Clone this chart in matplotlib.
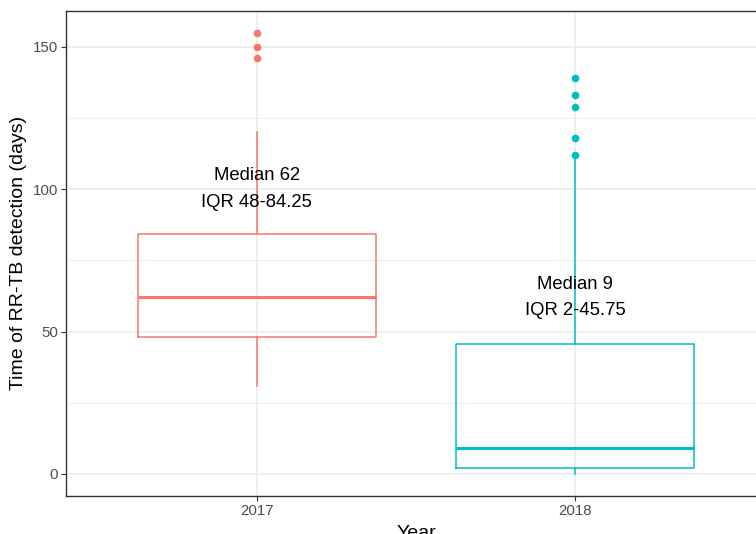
import matplotlib.pyplot as plt
from matplotlib.ticker import MultipleLocator

plt.rcParams['font.family'] = ['Liberation Sans', 'DejaVu Sans']

years = ["2017", "2018"]
q1 = [48, 2]
medians = [62, 9]
q3 = [84.25, 45.75]
whisk_lo = [31, 0]
whisk_hi = [120, 111]
outliers = [[146, 150, 155], [112, 118, 129, 133, 139]]
labels = ["Median 62\nIQR 48-84.25", "Median 9\nIQR 2-45.75"]
label_y = [100, 62]
colors = ["#F8766D", "#00BFC4"]

fig = plt.figure(figsize=(7.56, 5.34), dpi=100)
ax = fig.add_axes([66 / 756, 38 / 534, 700 / 756, 485.5 / 534])

positions = [1, 2]
for i, pos in enumerate(positions):
    stats = [{
        "med": medians[i], "q1": q1[i], "q3": q3[i],
        "whislo": whisk_lo[i], "whishi": whisk_hi[i],
        "fliers": outliers[i], "label": years[i],
    }]
    c = colors[i]
    ax.bxp(stats, positions=[pos], widths=0.75, showcaps=False,
           boxprops=dict(color=c, linewidth=1.1),
           whiskerprops=dict(color=c, linewidth=1.1),
           medianprops=dict(color=c, linewidth=2.2),
           flierprops=dict(marker="o", markerfacecolor=c, markeredgecolor=c,
                           markersize=4.5, linestyle="none"),
           zorder=3)
    ax.text(pos, label_y[i], labels[i], ha="center", va="center",
            fontsize=13.3, color="black", linespacing=1.75, zorder=4)

ax.set_xlim(0.4, 2.6)
ax.set_ylim(-7.75, 162.75)
ax.set_xticks(positions)
ax.set_xticklabels(years)
ax.yaxis.set_major_locator(MultipleLocator(50))
ax.yaxis.set_minor_locator(MultipleLocator(25))

ax.grid(which="major", color="#EBEBEB", linewidth=1.1, zorder=0)
ax.grid(which="minor", axis="y", color="#EBEBEB", linewidth=0.6, zorder=0)
ax.set_axisbelow(True)
ax.tick_params(which="major", length=3.5, width=0.8, color="#333333",
               labelsize=10.8, labelcolor="#4D4D4D", pad=2)
ax.tick_params(which="minor", length=0)
for s in ax.spines.values():
    s.set_color("#333333")
    s.set_linewidth(1.0)

ax.set_ylabel("Time of RR-TB detection (days)", fontsize=14, labelpad=4)
ax.set_xlabel("Year", fontsize=14, labelpad=5)

fig.savefig("out.png", dpi=100)
